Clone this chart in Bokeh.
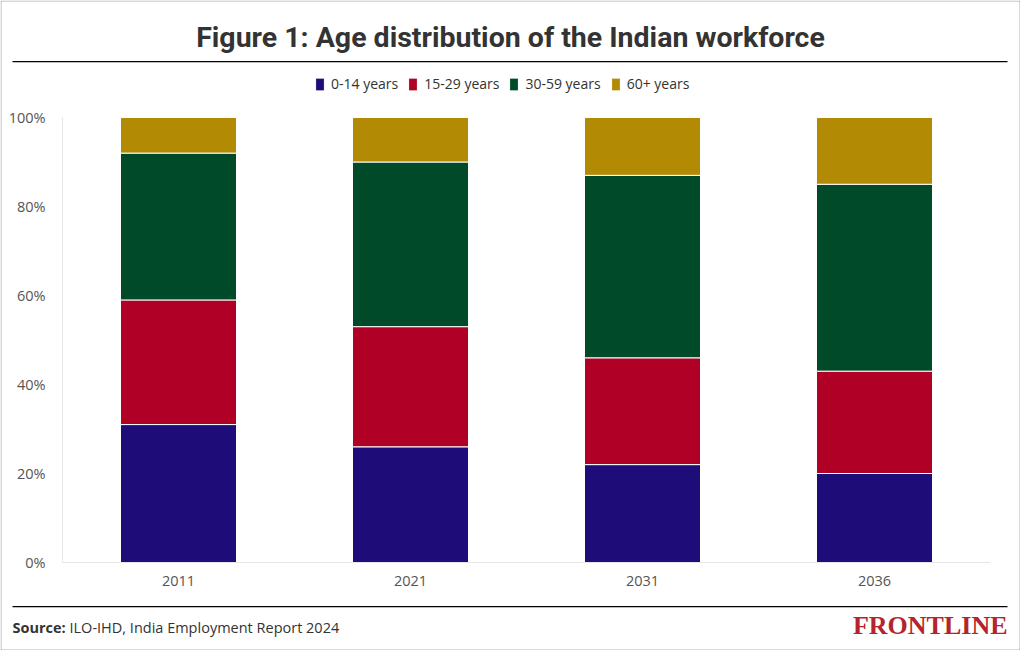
from bokeh.plotting import figure
from bokeh.models import (Range1d, Label, BoxAnnotation, Legend, LegendItem, LinearAxis,
                          PrintfTickFormatter, FixedTicker)
from bokeh.embed import file_html
from bokeh.resources import INLINE

years = ["2011", "2021", "2031", "2036"]
age_0_14 = [31, 26, 22, 20]
age_15_29 = [28, 27, 24, 23]
age_30_59 = [33, 37, 41, 42]
age_60_plus = [8, 10, 13, 15]
series_keys = ["a0_14", "a15_29", "a30_59", "a60"]
series_names = ["0-14 years", "15-29 years", "30-59 years", "60+ years"]
colors = ["#1e0d78", "#b00026", "#004a29", "#b38a04"]
y_ticks = [0, 20, 40, 60, 80, 100]

# canvas geometry (pixels)
W, H = 1020, 650
PL, PR, PT, PB = 62, 990, 117, 562   # plot area edges
n = len(years)
ux = (PR - PL) / n
uy = (PB - PT) / 100.0

p = figure(width=W, height=H, output_backend="svg", toolbar_location=None,
           x_axis_type=None, y_axis_type=None, min_border=0,
           x_range=Range1d(-PL / ux, n + (W - PR) / ux),
           y_range=Range1d(-(H - PB) / uy, 100 + PT / uy))
p.outline_line_color = None
p.background_fill_color = "white"
p.border_fill_color = "white"
p.xgrid.visible = False

xs = [i + 0.5 for i in range(n)]
data = dict(x=xs, a0_14=age_0_14, a15_29=age_15_29, a30_59=age_30_59, a60=age_60_plus)
rs = p.vbar_stack(series_keys, x="x", width=0.5, color=colors, source=data,
                  line_color="white", line_width=1)

# axes (fixed inside the canvas)
yax = LinearAxis(fixed_location=0, bounds=(0, 100), ticker=FixedTicker(ticks=y_ticks),
                 formatter=PrintfTickFormatter(format="%d%%"))
xax = LinearAxis(fixed_location=0, bounds=(0, n), ticker=FixedTicker(ticks=xs),
                 major_label_overrides={x: y for x, y in zip(xs, years)})
for ax in (xax, yax):
    ax.major_tick_line_color = None
    ax.minor_tick_line_color = None
    ax.axis_line_color = "#e6e6e6"
    ax.major_label_text_font = "Open Sans"
    ax.major_label_text_font_size = "14.5px"
    ax.major_label_text_color = "#555555"
yax.major_label_standoff = 11
xax.major_label_standoff = 7
p.add_layout(yax, "left")
p.add_layout(xax, "below")
p.ygrid.ticker = FixedTicker(ticks=y_ticks)
p.ygrid.bounds = (0, n)
p.ygrid.grid_line_color = "#ececec"

def scr(**kw):
    return dict(x_units="screen", y_units="screen", **kw)

def hbox(left, right, top, bottom, color="black"):
    return BoxAnnotation(left=left, right=right, top=H - top, bottom=H - bottom,
                         left_units="screen", right_units="screen",
                         top_units="screen", bottom_units="screen",
                         fill_color=color, fill_alpha=1, line_color=None)

# title + rule
p.add_layout(Label(**scr(x=510, y=H - 37,
                         text="Figure 1: Age distribution of the Indian workforce",
                         text_font="Roboto", text_font_style="bold", text_font_size="28.5px",
                         text_color="#333333", text_align="center", text_baseline="middle")))
p.add_layout(hbox(12, 1007, 60.5, 61.8))

# legend (location = bottom-left corner)
legend = Legend(items=[LegendItem(label=nm, renderers=[r]) for nm, r in zip(series_names, rs)],
                orientation="horizontal", location=(314, H - 93),
                glyph_width=11, glyph_height=16, label_standoff=6, spacing=9,
                padding=0, margin=0, border_line_color=None, background_fill_alpha=0,
                label_text_font="Open Sans", label_text_font_size="14px",
                label_text_color="#333333", label_height=16)
p.add_layout(legend, "center")

# footer
p.add_layout(hbox(12, 1007, 605.5, 606.8))
p.add_layout(Label(**scr(x=12, y=H - 627, text="Source:", text_font="Open Sans",
                         text_font_style="bold", text_font_size="14.5px",
                         text_color="#333333", text_baseline="middle")))
p.add_layout(Label(**scr(x=69, y=H - 627, text="ILO-IHD, India Employment Report 2024",
                         text_font="Open Sans", text_font_size="14.5px",
                         text_color="#333333", text_baseline="middle")))
p.add_layout(Label(**scr(x=1007, y=H - 625, text="FRONTLINE", text_font="Liberation Serif",
                         text_font_style="bold", text_font_size="26px",
                         text_color="#b5242c", text_align="right", text_baseline="middle")))

# outer border
p.add_layout(BoxAnnotation(left=0.5, right=W - 0.5, top=H - 0.5, bottom=0.5,
                           left_units="screen", right_units="screen",
                           top_units="screen", bottom_units="screen",
                           fill_alpha=0, line_color="black", line_width=1))

open("out.html", "w").write(file_html(p, INLINE))
